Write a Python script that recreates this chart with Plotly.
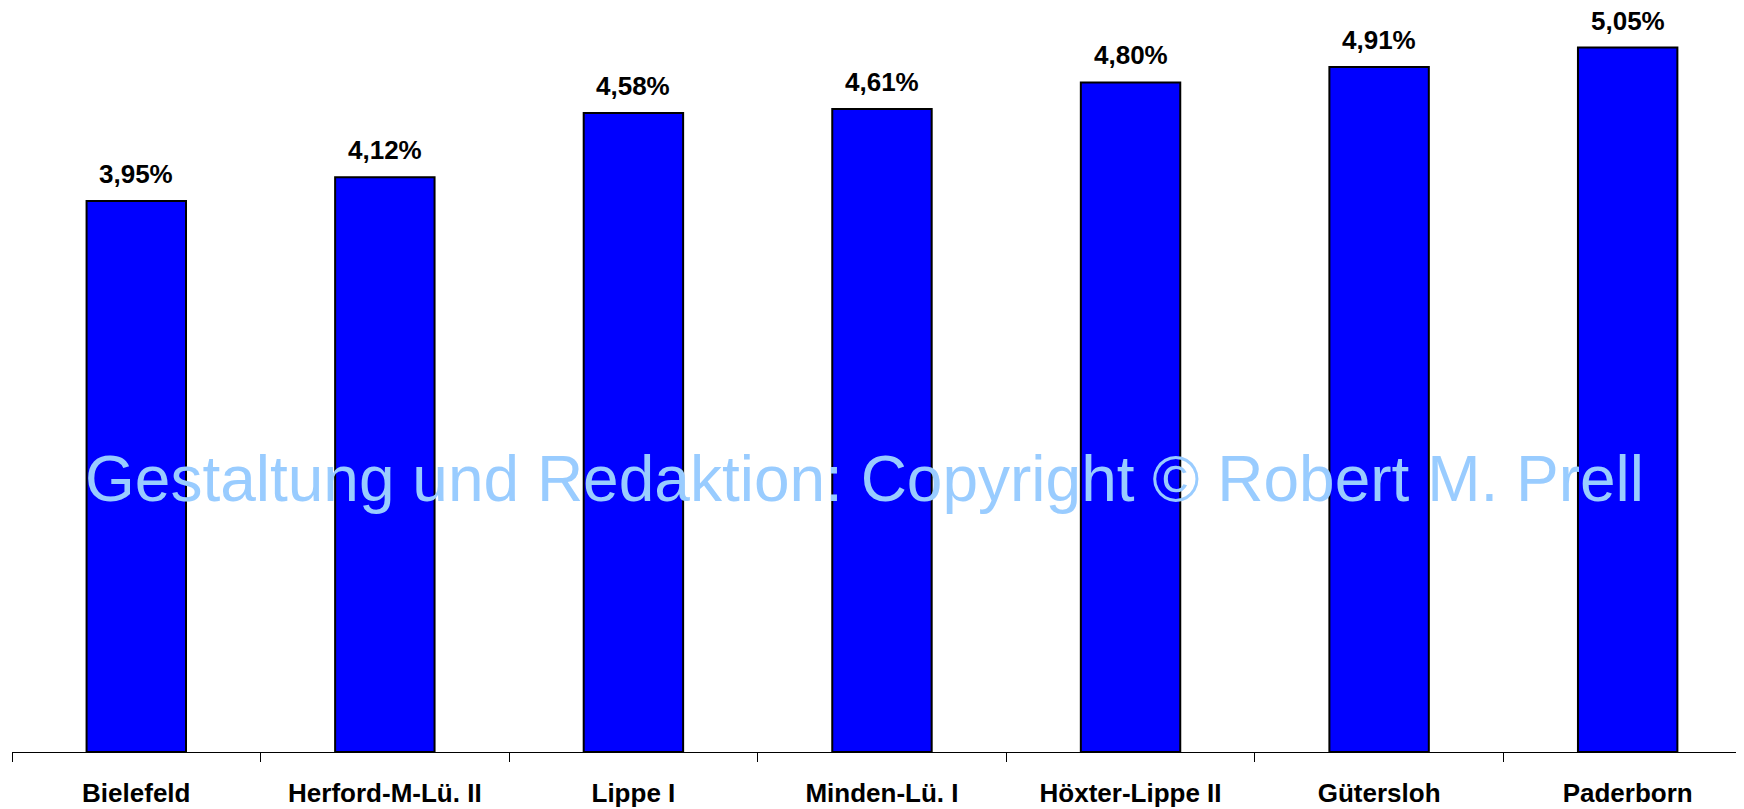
import plotly.graph_objects as go

categories = ["Bielefeld", "Herford-M-Lü. II", "Lippe I", "Minden-Lü. I",
              "Höxter-Lippe II", "Gütersloh", "Paderborn"]
values = [3.95, 4.12, 4.58, 4.61, 4.80, 4.91, 5.05]
value_labels = ["3,95%", "4,12%", "4,58%", "4,61%", "4,80%", "4,91%", "5,05%"]
watermark = "Gestaltung und Redaktion: Copyright © Robert M. Prell"

FONT = "Liberation Sans, Arial, sans-serif"

fig = go.Figure()
fig.add_trace(go.Bar(
    x=categories, y=values,
    marker=dict(color="#0000FF", line=dict(color="#000000", width=2)),
    hoverinfo="skip",
))

for c, v, t in zip(categories, values, value_labels):
    fig.add_annotation(x=c, y=v, text="<b>%s</b>" % t, showarrow=False,
                       xref="x", yref="y", yanchor="bottom", yshift=11,
                       borderpad=0,
                       font=dict(family=FONT, size=26, color="#000000"))

fig.add_annotation(x=0.492, y=0.3675, xref="paper", yref="paper",
                   text=watermark, showarrow=False,
                   xanchor="center", yanchor="middle",
                   font=dict(family=FONT, size=64, color="#99CCFF"))

fig.update_layout(
    width=1736, height=801,
    margin=dict(l=4, r=0, t=0, b=57),
    paper_bgcolor="white", plot_bgcolor="white",
    bargap=0.6, showlegend=False,
    font=dict(family=FONT),
)
fig.update_xaxes(
    range=[-0.5, 6.468], tickson="boundaries",
    showline=True, linecolor="#000000", linewidth=1,
    ticks="outside", ticklen=9, tickcolor="#000000", tickwidth=1,
    tickfont=dict(family=FONT, size=26, color="#000000"),
    tickvals=categories, ticktext=["<b>%s</b>" % c for c in categories],
    showgrid=False, zeroline=False, ticklabelstandoff=18,
    automargin=False,
)
fig.update_yaxes(range=[0, 744 / 139.5], visible=False, showgrid=False, zeroline=False)

fig.write_html("out.html")
